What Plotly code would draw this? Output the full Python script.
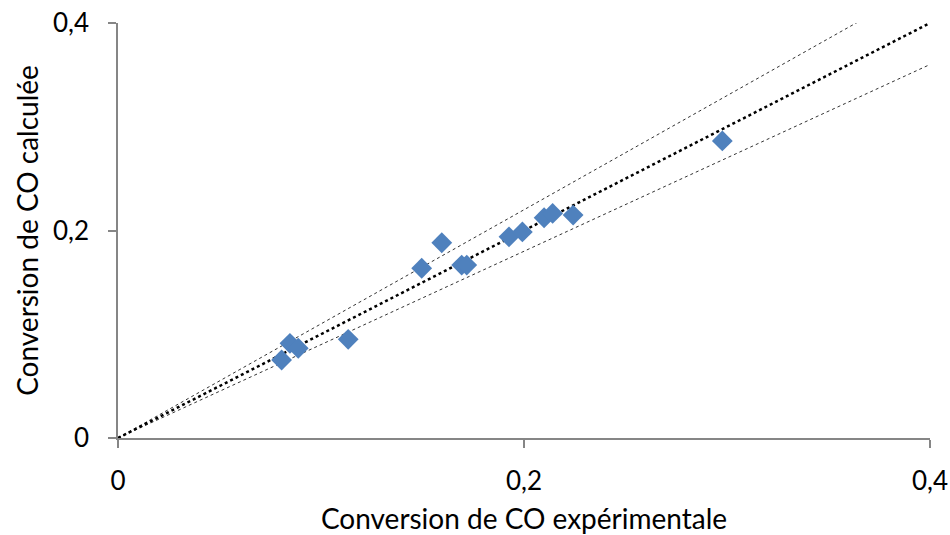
import plotly.graph_objects as go

# Data
x_exp = [0.0806, 0.0847, 0.0888, 0.1134, 0.1496, 0.1595, 0.1693, 0.1718,
         0.1926, 0.1992, 0.2099, 0.2141, 0.2242, 0.2977]
y_calc = [0.0752, 0.0913, 0.0865, 0.0951, 0.1636, 0.1882, 0.1667, 0.1667,
          0.1939, 0.1986, 0.2123, 0.2165, 0.2149, 0.2863]

line_x = [0.0, 0.4]
factor_mid = 1.0
factor_hi = 1.1
factor_lo = 0.9

tick_vals = [0, 0.2, 0.4]
tick_text = ["0", "0,2", "0,4"]

font_family = "Lato, 'Open Sans', sans-serif"

fig = go.Figure()
fig.add_trace(go.Scatter(x=line_x, y=[v * factor_hi for v in line_x], mode="lines",
                         line=dict(color="#333333", width=1, dash="dot"),
                         showlegend=False, hoverinfo="skip"))
fig.add_trace(go.Scatter(x=line_x, y=[v * factor_lo for v in line_x], mode="lines",
                         line=dict(color="#333333", width=1, dash="dot"),
                         showlegend=False, hoverinfo="skip"))
fig.add_trace(go.Scatter(x=line_x, y=[v * factor_mid for v in line_x], mode="lines",
                         line=dict(color="#000000", width=2.5, dash="dot"),
                         showlegend=False, hoverinfo="skip"))
fig.add_trace(go.Scatter(x=x_exp, y=y_calc, mode="markers",
                         marker=dict(symbol="diamond", size=16, color="#4F81BD",
                                     line=dict(width=0)),
                         showlegend=False))

fig.update_layout(
    width=950, height=535,
    margin=dict(l=118, r=20, t=23, b=97),
    plot_bgcolor="white", paper_bgcolor="white",
    separators=", ",
    font=dict(family=font_family, size=26, color="#000000"),
    xaxis=dict(
        range=[0, 0.4], tickvals=tick_vals, ticktext=tick_text,
        showgrid=False, zeroline=False, showline=True, automargin=False,
        linecolor="#868686", linewidth=1.5,
        ticks="outside", ticklen=8, tickcolor="#868686", tickwidth=1.5,
        ticklabelstandoff=11, ticklabeloverflow="allow",
        tickfont=dict(size=26),
        title=dict(text="Conversion de CO expérimentale", font=dict(size=28), standoff=14),
    ),
    yaxis=dict(
        range=[0, 0.4], tickvals=tick_vals, ticktext=tick_text,
        showgrid=False, zeroline=False, showline=True, automargin=False,
        linecolor="#868686", linewidth=1.5,
        ticks="outside", ticklen=8, tickcolor="#868686", tickwidth=1.5,
        ticklabelstandoff=14, ticklabeloverflow="allow",
        tickfont=dict(size=26),
        title=dict(text="Conversion de CO calculée", font=dict(size=28), standoff=6),
    ),
)

fig.write_html(
    "out.html",
    config={"displayModeBar": False},
    post_script="document.body.style.margin='0';document.body.style.overflow='hidden';",
)
